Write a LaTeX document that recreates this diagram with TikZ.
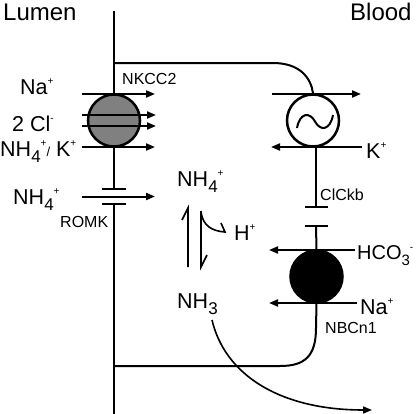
\documentclass[tikz,border=0pt]{standalone}
\usepackage{fontspec}
\setmainfont{Liberation Sans}
\usetikzlibrary{arrows.meta}
\newcommand\ionsup[1]{\raisebox{0.42em}{\fontsize{10bp}{10bp}\selectfont #1}}
\newcommand\ionsub[1]{\raisebox{-0.3em}{\fontsize{17bp}{17bp}\selectfont #1}}
\newcommand\ionslash{{\fontsize{13bp}{13bp}\selectfont /}}
\begin{document}
\begin{tikzpicture}[x=1bp,y=-1bp,
  memb/.style={line width=2bp},
  thin/.style={line width=1.6bp},
  flux/.style={line width=2bp,-{Triangle[length=9bp,width=7bp]}},
  ion/.style={font=\fontsize{21.5bp}{24bp}\selectfont, inner sep=0pt, anchor=base west},
  tag/.style={font=\fontsize{16bp}{18bp}\selectfont, inner sep=0pt, anchor=base west},
  side/.style={font=\fontsize{24bp}{28bp}\selectfont, inner sep=0pt, anchor=base west},
  carrier/.style={circle, draw, line width=2.5bp, minimum size=52bp, inner sep=0pt}
]
\useasboundingbox (0,0) rectangle (416,414);

% membranes
\coordinate (mtop) at (114,11);
\coordinate (mbot) at (114,414);
\coordinate (romkA) at (114,189);
\coordinate (romkB) at (114,204);
\coordinate (jtop) at (114,63);
\coordinate (jbot) at (114,366);
\draw[memb] (mtop) -- (romkA);
\draw[memb] (romkB) -- (mbot);
\draw[memb] (102,189) -- (126,189);
\draw[memb] (102,204) -- (126,204);

% carriers
\node[carrier, fill=gray] (nkcc) at (114,120.5) {};
\node[carrier, fill=white] (pump) at (313,120.5) {};
\node[carrier, fill=black] (nbc) at (316.5,276.5) {};

\draw[line width=2bp] (297,128) .. controls (300,112) and (310,112) .. (315,121.5)
  .. controls (320,131) and (330,131) .. (333,115);

% basolateral membrane
\draw[memb] (jtop) -- (273,63) .. controls (300,63) and (311,78) .. (pump.north);
\coordinate (clA) at (316,207);
\coordinate (clB) at (316,226);
\draw[memb] (clA |- pump.south) -- (clA);
\draw[memb] (305,207) -- (328,207);
\draw[memb] (305,226) -- (328,226);
\draw[memb] (clB) -- (nbc.north);
\draw[memb] (nbc.south) -- (316,328) .. controls (316,356) and (305,366) .. (280,366) -- (jbot);

% lumen fluxes
\coordinate (a1) at (82,94);  \coordinate (b1) at (155,94);
\coordinate (a2) at (82,115); \coordinate (b2) at (156,115);
\coordinate (a3) at (82,126); \coordinate (b3) at (156,126);
\coordinate (a4) at (82,147); \coordinate (b4) at (155,147);
\coordinate (a5) at (82,196.5); \coordinate (b5) at (155,196.5);
\draw[flux] (a1) -- (b1);
\draw[flux] (a2) -- (b2);
\draw[flux] (a3) -- (b3);
\draw[flux] (a4) -- (b4);
\draw[flux] (a5) -- (b5);

% blood fluxes
\coordinate (p1) at (272,94);  \coordinate (q1) at (361,94);
\coordinate (p2) at (362,147); \coordinate (q2) at (271,147);
\coordinate (p3) at (355,250); \coordinate (q3) at (269,250);
\coordinate (p4) at (357,303); \coordinate (q4) at (269,303);
\draw[flux] (p1) -- (q1);
\draw[flux] (p2) -- (q2);
\draw[flux] (p3) -- (q3);
\draw[flux] (p4) -- (q4);

% equilibrium
\coordinate (e1) at (188,267); \coordinate (e2) at (188,208);
\coordinate (e3) at (201,211); \coordinate (e4) at (201,267);
\draw[thin] (e1) -- (e2) -- (182,220);
\draw[thin] (e3) -- (e4) -- (207,255);
\draw[thin] (201,212) .. controls (203,226) and (212,231) .. (225,232) -- (221,223);

% NH3 exit
\coordinate (n1) at (212,320); \coordinate (n2) at (372,410);
\draw[thin,-{Triangle[length=9bp,width=7bp]}] (n1) .. controls (225,375) and (280,410) .. (n2);

% labels
\node[side] (lumen) at (3,20) {Lumen};
\node[side] (blood) at (350,20) {Blood};
\node[ion] (naL) at (20,94) {Na\ionsup{+}};
\node[ion] (clL) at (12,131) {2 Cl\ionsup{-}};
\node[ion] (nhk) at (0,156) {NH\ionsub{4}\ionsup{+}\ionslash{} K\ionsup{+}};
\node[ion] (nhR) at (13,204) {NH\ionsub{4}\ionsup{+}};
\node[tag] (romk) at (60,227) {ROMK};
\node[tag] (nkcclab) at (122,84) {NKCC2};
\node[ion] (nhM) at (177,186) {NH\ionsub{4}\ionsup{+}};
\node[ion] (hp) at (234,240) {H\ionsup{+}};
\node[ion] (nh3) at (177,308) {NH\ionsub{3}};
\node[ion] (kp) at (366,158) {K\ionsup{+}};
\node[tag] (clck) at (320,200) {ClCkb};
\node[ion, font=\fontsize{20bp}{24bp}\selectfont] (hco) at (357,259)
  {HCO\raisebox{-0.3em}{\fontsize{15bp}{15bp}\selectfont 3}\ionsup{-}};
\node[ion] (naR) at (360,314) {Na\ionsup{+}};
\node[tag] (nbclab) at (325,333) {NBCn1};
\end{tikzpicture}
\end{document}
